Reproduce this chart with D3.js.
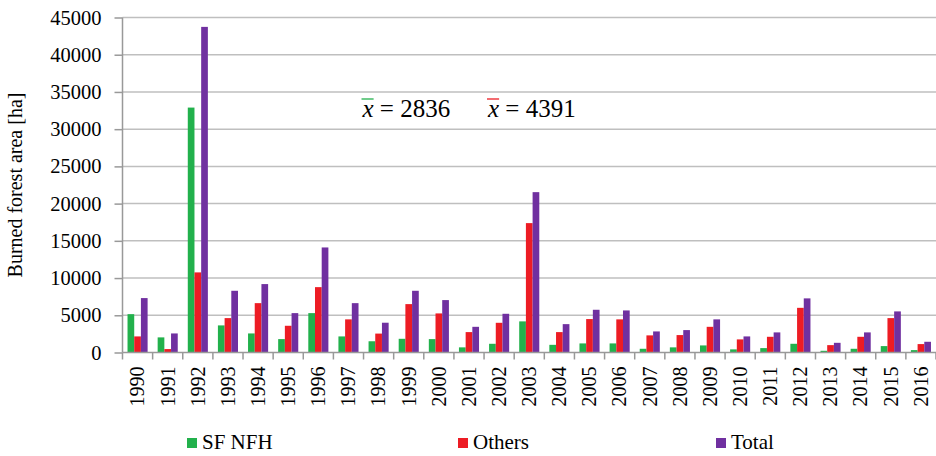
<!DOCTYPE html>
<html>
<head>
<meta charset="utf-8">
<script src="https://cdn.jsdelivr.net/npm/d3@7"></script>
<style>
  body { margin: 0; background: #fff; }
  text { font-family: "Liberation Serif", "Times New Roman", serif; fill: #000; }
</style>
</head>
<body>
<svg id="chart" width="936" height="456"></svg>
<script>
// data
const years = d3.range(1990, 2017).map(String);
const series = ['SF NFH', 'Others', 'Total'];
const sfnfh = [5150, 2030, 32900, 3640, 2560, 1800, 5290, 2160, 1510, 1840, 1800, 690, 1170, 4180,
    1030, 1220, 1220, 500, 690, 950, 420, 590, 1170, 230, 500, 860, 320];
const others = [2160, 460, 10760, 4620, 6630, 3590, 8780, 4450, 2540, 6500, 5250, 2740, 3990, 17380,
    2740, 4490, 4450, 2300, 2340, 3450, 1760, 2110, 6000, 990, 2110, 4620, 1130];
const total = [7310, 2560, 43740, 8290, 9190, 5290, 14110, 6630, 4000, 8290, 7040, 3450, 5200, 21540,
    3810, 5740, 5650, 2830, 3010, 4450, 2160, 2700, 7270, 1300, 2700, 5520, 1440];
const yTicks = d3.range(0, 45001, 5000);
const means = [{ value: 2836, series: 'SF NFH' }, { value: 4391, series: 'Others' }];

const colors = d3.scaleOrdinal()
    .domain(series)
    .range(['#22b14c', '#ed1c24', '#7030a0']);

const svg = d3.select('#chart');
const plot = { left: 122.5, right: 936, top: 17.5, bottom: 352.5 };

const x = d3.scaleBand()
    .domain(years)
    .range([plot.left, plot.right]);

const x1 = d3.scaleBand()
    .domain(series)
    .range([0, x.bandwidth()])
    .paddingOuter(0.75);

const y = d3.scaleLinear()
    .domain([0, 45000])
    .range([plot.bottom, plot.top]);

// gridlines
svg.append('g')
    .selectAll('line')
    .data(yTicks.filter(d => d > 0))
    .join('line')
    .attr('x1', plot.left)
    .attr('x2', plot.right)
    .attr('y1', d => y(d))
    .attr('y2', d => y(d))
    .attr('stroke', '#bfbfbf')
    .attr('stroke-width', 1.5);

// bars
const rows = years.map((yr, i) => ({ year: yr, values: [sfnfh[i], others[i], total[i]] }));

svg.append('g')
    .selectAll('g')
    .data(rows)
    .join('g')
    .attr('transform', d => `translate(${x(d.year)},0)`)
    .selectAll('rect')
    .data(d => d.values.map((v, k) => ({ key: series[k], value: v })))
    .join('rect')
    .attr('x', d => x1(d.key))
    .attr('width', x1.bandwidth())
    .attr('y', d => y(d.value))
    .attr('height', d => y(0) - y(d.value))
    .attr('fill', d => colors(d.key));

// y axis
const yAxis = svg.append('g')
    .attr('transform', `translate(${plot.left},0)`)
    .call(d3.axisLeft(y).tickValues(yTicks).tickSize(8).tickPadding(13).tickFormat(d3.format('d')));
yAxis.selectAll('line, path').attr('stroke', '#999').attr('stroke-width', 1.5);
yAxis.select('.domain').attr('d', `M0,${plot.top}V${plot.bottom}`);
yAxis.selectAll('text')
    .style('font-family', '"Liberation Serif", serif')
    .attr('font-size', 20.5)
    .attr('fill', '#000');

// x axis
const xg = svg.append('g');
xg.append('line')
    .attr('x1', plot.left)
    .attr('x2', plot.right)
    .attr('y1', y(0))
    .attr('y2', y(0))
    .attr('stroke', '#999')
    .attr('stroke-width', 1.5);
xg.selectAll('.tick')
    .data(years.map(d => x(d)).concat([x(years[years.length - 1]) + x.bandwidth()]))
    .join('line')
    .attr('class', 'tick')
    .attr('x1', d => d)
    .attr('x2', d => d)
    .attr('y1', y(0))
    .attr('y2', y(0) + 7)
    .attr('stroke', '#999')
    .attr('stroke-width', 1.5);
xg.selectAll('text')
    .data(years)
    .join('text')
    .attr('transform', d => `translate(${x(d) + x.bandwidth() / 2},${y(0) + 14}) rotate(-90)`)
    .attr('text-anchor', 'end')
    .attr('dy', '0.34em')
    .attr('font-size', 20)
    .text(d => d);

// y label
svg.append('text')
    .attr('transform', `translate(22,${(plot.top + plot.bottom) / 2}) rotate(-90)`)
    .attr('text-anchor', 'middle')
    .attr('font-size', 20)
    .text('Burned forest area [ha]');

// mean annotations
const meanX = [362.5, 488];
means.forEach((m, i) => {
    const t = svg.append('text')
        .attr('x', meanX[i])
        .attr('y', 117)
        .attr('font-size', 25)
        .attr('fill', colors(m.series));
    const xs = t.append('tspan').attr('font-style', 'italic').text('x');
    t.append('tspan').text(' = ' + m.value);
    const bb = xs.node().getBBox();
    svg.append('line')
        .attr('x1', bb.x)
        .attr('x2', bb.x + bb.width)
        .attr('y1', bb.y + 4)
        .attr('y2', bb.y + 4)
        .attr('stroke', colors(m.series))
        .attr('stroke-width', 1.3);
});

// legend
const legendX = [187, 458, 716];
const lg = svg.append('g')
    .selectAll('g')
    .data(series)
    .join('g')
    .attr('transform', (d, i) => `translate(${legendX[i]},438)`);
lg.append('rect')
    .attr('width', 10)
    .attr('height', 10)
    .attr('fill', d => colors(d));
lg.append('text')
    .attr('x', 15)
    .attr('y', 11)
    .attr('font-size', 21)
    .text(d => d);
</script>
</body>
</html>
